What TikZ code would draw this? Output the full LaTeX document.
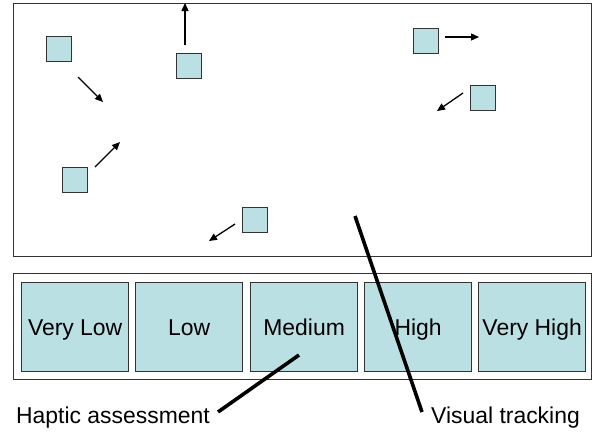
\documentclass[tikz,border=0pt]{standalone}
\usepackage{fontspec}
\setmainfont{Liberation Sans}
\usetikzlibrary{arrows.meta}
\definecolor{boxfill}{HTML}{BBE0E3}
\definecolor{edge}{HTML}{333333}
\begin{document}
\begin{tikzpicture}[x=1bp,y=-1bp,
  frame/.style={draw=edge,line width=1.3bp},
  sq/.style={draw=edge,fill=boxfill,line width=1.3bp,minimum width=25bp,minimum height=25bp,inner sep=0pt,anchor=north west},
  level/.style={draw=edge,fill=boxfill,line width=1.3bp,minimum width=107bp,minimum height=89bp,inner sep=0pt,anchor=north west,font=\fontsize{23}{26}\selectfont,text height=17bp,text depth=0pt},
  mv/.style={line width=1.3bp,-{Triangle[length=8bp,width=7bp]}},
  pointer/.style={line width=3.6bp,black},
  lbl/.style={font=\fontsize{23}{26}\selectfont,inner sep=0pt}]
\useasboundingbox (0,0) rectangle (594,431);
\node[frame,anchor=north west,minimum width=578bp,minimum height=253bp,inner sep=0pt] (field) at (13,3) {};
\node[frame,anchor=north west,minimum width=578bp,minimum height=106bp,inner sep=0pt] (scale) at (13,273) {};
\node[level] (vlow) at (21,282) {Very Low};
\node[level] (low) at (135,282) {Low};
\node[level] (med) at (250,282) {Medium};
\node[level] (high) at (364,282) {High};
\node[level] (vhigh) at (478,282) {Very High};
\node[sq] (s1) at (46,36) {};
\node[sq] (s2) at (176,53) {};
\node[sq] (s3) at (62,167) {};
\node[sq] (s4) at (242,207) {};
\node[sq] (s5) at (413,28) {};
\node[sq] (s6) at (470,85) {};
\coordinate (a1s) at (78,77); \coordinate (a1e) at (103,102);
\coordinate (a2s) at (185,45); \coordinate (a2e) at (185,3);
\coordinate (a3s) at (95,167); \coordinate (a3e) at (120,142);
\coordinate (a4s) at (235,224); \coordinate (a4e) at (209,241);
\coordinate (a5s) at (445,37); \coordinate (a5e) at (479,37);
\coordinate (a6s) at (463,93); \coordinate (a6e) at (437,111);
\draw[mv] (a1s) -- (a1e);
\draw[mv] (a2s) -- (a2e);
\draw[mv] (a3s) -- (a3e);
\draw[mv] (a4s) -- (a4e);
\draw[mv] (a5s) -- (a5e);
\draw[mv] (a6s) -- (a6e);
\node[lbl,anchor=base west] (hap) at (16,423) {Haptic assessment};
\node[lbl,anchor=base west] (vis) at (431,423) {Visual tracking};
\coordinate (hapA) at (218,412); \coordinate (hapB) at (299,355);
\coordinate (visA) at (355,216); \coordinate (visB) at (422,412);
\draw[pointer] (hapA) -- (hapB);
\draw[pointer] (visA) -- (visB);
\end{tikzpicture}
\end{document}
